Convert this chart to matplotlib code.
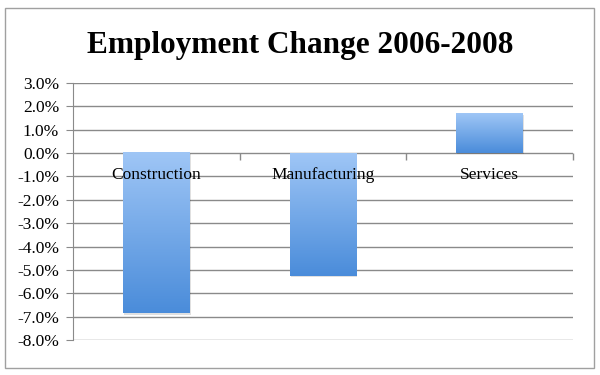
import matplotlib
matplotlib.use("Agg")
import matplotlib.pyplot as plt
import numpy as np
from matplotlib.patches import Rectangle
from matplotlib.ticker import FuncFormatter, FixedLocator
from matplotlib.colors import LinearSegmentedColormap

categories = ["Construction", "Manufacturing", "Services"]
values = [-6.85, -5.25, 1.68]
yticks = list(range(-8, 4))
title = "Employment Change 2006-2008"

serif = ["Liberation Serif", "DejaVu Serif"]

fig = plt.figure(figsize=(6, 3.75), dpi=100)
# outer chart border
fig.patches.append(Rectangle((5/600, 1-368/375), 589/600, 360/375, transform=fig.transFigure,
                             fill=False, edgecolor="#a0a0a0", lw=1.0, zorder=0))

ax = fig.add_axes([73/600, 1-340/375, 500/600, 257/375])
ax.set_xlim(-0.5, 2.5)
ax.set_ylim(-8, 3)

ax.yaxis.set_major_locator(FixedLocator(yticks))
ax.yaxis.set_major_formatter(FuncFormatter(lambda v, p: f"{v:.1f}%"))
ax.grid(axis="y", color="#8a8a8a", lw=1.0)
ax.set_axisbelow(True)
for s in ["top", "right", "bottom"]:
    ax.spines[s].set_visible(False)
ax.spines["left"].set_color("#8a8a8a")
ax.tick_params(axis="y", length=5, color="#8a8a8a", labelsize=12.5, pad=5)
for lbl in ax.get_yticklabels():
    lbl.set_family(serif)

# category boundary ticks at zero line
ax.set_xticks([])
for xb in [0.5, 1.5, 2.5]:
    ax.plot([xb], [0], marker=3, markersize=5, color="#8a8a8a", mew=1.0, clip_on=False, zorder=3)

cmap = LinearSegmentedColormap.from_list("g", ["#4a8cda", "#9fc6f6"])
grad = np.linspace(0, 1, 256).reshape(-1, 1)

bars = ax.bar(range(len(categories)), values, width=0.4, color="none", edgecolor="none", zorder=2)
for b, v in zip(bars, values):
    x0 = b.get_x(); w = b.get_width()
    lo, hi = min(0, v), max(0, v)
    sh = Rectangle((x0 + 0.006, lo - 0.06), w, hi - lo, facecolor="#000000", alpha=0.12,
                   edgecolor="none", zorder=1.5)
    ax.add_patch(sh)
    ax.imshow(grad, extent=(x0, x0 + w, lo, hi), origin="lower", cmap=cmap,
              aspect="auto", zorder=2.5)
ax.set_xlim(-0.5, 2.5)
ax.set_ylim(-8, 3)

for i, c in enumerate(categories):
    ax.annotate(c, xy=(i, 0), xytext=(0, -16), textcoords="offset points",
                ha="center", va="center", fontsize=12.5, family=serif, zorder=4)

fig.text(0.5, 1-45/375, title, ha="center", va="center", fontsize=22.5,
         fontweight="bold", family=serif)

fig.savefig("out.png", dpi=100)
